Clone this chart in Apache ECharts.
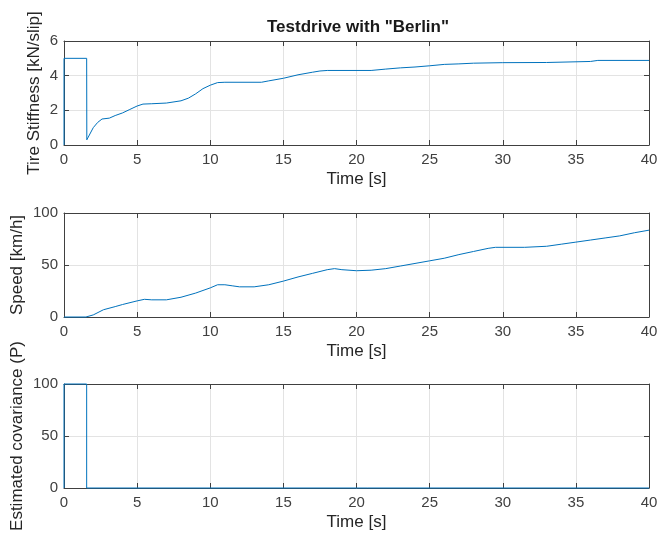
<!DOCTYPE html>
<html><head><meta charset="utf-8">
<script src="https://cdn.jsdelivr.net/npm/echarts@6/dist/echarts.min.js"></script>
<style>html,body{margin:0;padding:0;background:#fff}#c{width:661px;height:535px}</style>
</head><body><div id="c"></div>
<script>
const titleText = 'Testdrive with "Berlin"';
const xLabel = 'Time [s]';
const yLabels = ['Tire Stiffness [kN/slip]', 'Speed [km/h]', 'Estimated covariance (P)'];

const stiffT = [0, 0, 1.55, 1.56, 2.0, 2.3, 2.6, 3.1, 3.5, 4.0, 4.5, 5.0, 5.4, 6.0, 7.0, 8.0, 8.5, 9.0, 9.5, 10.0, 10.5, 11.0, 13.5, 14.0, 15.0, 16.0, 17.0, 17.5, 18.0, 21.0, 22.0, 23.0, 24.0, 25.0, 26.0, 27.0, 28.0, 30.0, 33.0, 33.1, 36.0, 36.5, 40.0];
const stiffV = [0, 5.0, 5.0, 0.3, 1.0, 1.3, 1.5, 1.55, 1.7, 1.85, 2.05, 2.25, 2.36, 2.38, 2.42, 2.55, 2.7, 2.95, 3.25, 3.45, 3.6, 3.62, 3.62, 3.7, 3.85, 4.05, 4.2, 4.27, 4.3, 4.3, 4.38, 4.45, 4.5, 4.57, 4.65, 4.68, 4.72, 4.75, 4.76, 4.8, 4.82, 4.88, 4.88];

const speedT = [0, 1.5, 2.0, 2.7, 3.5, 4.0, 5.0, 5.5, 6.0, 7.0, 8.0, 9.0, 10.0, 10.5, 11.0, 11.5, 12.0, 13.0, 14.0, 15.0, 16.0, 17.0, 18.0, 18.5, 19.0, 20.0, 21.0, 22.0, 23.0, 24.0, 25.0, 26.0, 27.0, 28.0, 29.0, 29.5, 31.5, 33.0, 34.0, 35.0, 36.0, 37.0, 38.0, 39.0, 40.0];
const speedV = [0, 0, 2, 7, 10, 12, 15.5, 17, 16.5, 16.5, 19, 23, 28, 31, 31, 30, 29, 29, 31, 34.5, 38.5, 42, 45.5, 46.5, 45.5, 44.5, 45, 46.5, 49, 51.5, 54, 56.5, 60, 63, 66, 67, 67, 68, 70, 72, 74, 76, 78, 81, 83.5];

const covT = [0, 0, 1.55, 1.55, 40];
const covV = [0, 100, 100, 0, 0];

const xTicks = {min: 0, max: 40, interval: 5};
const yRanges = [{min: 0, max: 6, interval: 2}, {min: 0, max: 100, interval: 50}, {min: 0, max: 100, interval: 50}];

const zip = (a, b) => a.map((v, i) => [v, b[i]]);
const seriesData = [zip(stiffT, stiffV), zip(speedT, speedV), zip(covT, covV)];

const gridTops = [41, 213, 384];
const yNameGaps = [21, 38, 38];
const axisColor = '#404040';
const font = 'Liberation Sans, Arial, sans-serif';

const grids = [], xAxes = [], yAxes = [], series = [];
for (let i = 0; i < 3; i++) {
  grids.push({left: 64, right: 12, top: gridTops[i], height: 104, containLabel: false, outerBoundsMode: 'none'});
  xAxes.push({type: 'value', gridIndex: i, ...xTicks, position: 'bottom',
    name: xLabel, nameLocation: 'middle', nameGap: 26, nameMoveOverlap: false,
    nameTextStyle: {fontFamily: font, fontSize: 17, color: '#262626'},
    axisLine: {show: true, onZero: false, lineStyle: {color: axisColor, width: 1}},
    axisTick: {show: true, inside: true, length: 5, lineStyle: {color: axisColor}},
    axisLabel: {fontFamily: font, fontSize: 15, color: '#404040', margin: 7},
    splitLine: {show: true, lineStyle: {color: '#e3e3e3', width: 1}}});
  xAxes.push({type: 'value', gridIndex: i, ...xTicks, position: 'top',
    axisLine: {show: true, onZero: false, lineStyle: {color: axisColor, width: 1}},
    axisTick: {show: true, inside: true, length: 5, lineStyle: {color: axisColor}},
    axisLabel: {show: false}, splitLine: {show: false}});
  yAxes.push({type: 'value', gridIndex: i, ...yRanges[i], position: 'left',
    name: yLabels[i], nameLocation: 'middle', nameGap: yNameGaps[i], nameRotate: 90, nameMoveOverlap: false,
    nameTextStyle: {fontFamily: font, fontSize: 17, color: '#262626'},
    axisLine: {show: true, onZero: false, lineStyle: {color: axisColor, width: 1}},
    axisTick: {show: true, inside: true, length: 5, lineStyle: {color: axisColor}},
    axisLabel: {fontFamily: font, fontSize: 15, color: '#404040', margin: 6},
    splitLine: {show: true, lineStyle: {color: '#e3e3e3', width: 1}}});
  yAxes.push({type: 'value', gridIndex: i, ...yRanges[i], position: 'right',
    axisLine: {show: true, onZero: false, lineStyle: {color: axisColor, width: 1}},
    axisTick: {show: true, inside: true, length: 5, lineStyle: {color: axisColor}},
    axisLabel: {show: false}, splitLine: {show: false}});
  series.push({type: 'line', xAxisIndex: 2 * i, yAxisIndex: 2 * i, data: seriesData[i],
    showSymbol: false, symbol: 'none', lineStyle: {color: '#0072BD', width: 1}, z: 5, clip: false});
}

const chart = echarts.init(document.getElementById('c'), null, {renderer: 'canvas'});
chart.setOption({
  animation: false,
  backgroundColor: '#ffffff',
  title: {text: titleText, left: 353, top: 14, textAlign: 'center',
    textStyle: {fontFamily: font, fontSize: 17, fontWeight: 'bold', color: '#1a1a1a'}},
  grid: grids, xAxis: xAxes, yAxis: yAxes, series: series
});
</script></body></html>
